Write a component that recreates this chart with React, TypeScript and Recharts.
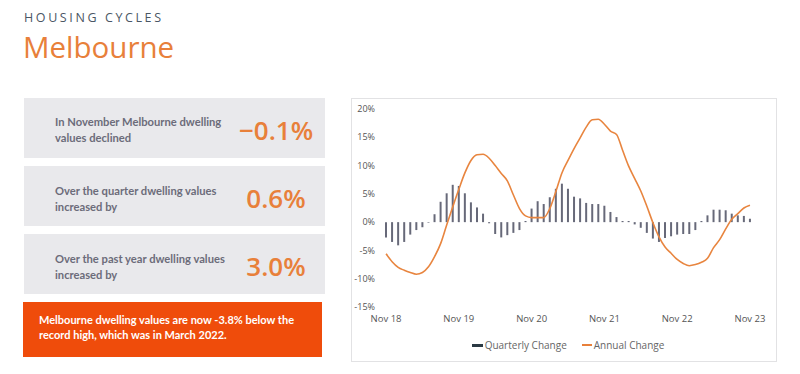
import React from "react";
import { ComposedChart, Bar, Line, XAxis, YAxis, Legend } from "recharts";

const months: string[] = [
  "Nov 18","Dec 18","Jan 19","Feb 19","Mar 19","Apr 19","May 19","Jun 19","Jul 19","Aug 19","Sep 19","Oct 19",
  "Nov 19","Dec 19","Jan 20","Feb 20","Mar 20","Apr 20","May 20","Jun 20","Jul 20","Aug 20","Sep 20","Oct 20",
  "Nov 20","Dec 20","Jan 21","Feb 21","Mar 21","Apr 21","May 21","Jun 21","Jul 21","Aug 21","Sep 21","Oct 21",
  "Nov 21","Dec 21","Jan 22","Feb 22","Mar 22","Apr 22","May 22","Jun 22","Jul 22","Aug 22","Sep 22","Oct 22",
  "Nov 22","Dec 22","Jan 23","Feb 23","Mar 23","Apr 23","May 23","Jun 23","Jul 23","Aug 23","Sep 23","Oct 23",
  "Nov 23",
];

const quarterlyChange: number[] = [
  -2.7, -3.5, -4.1, -3.5, -2.2, -1.4, -0.9, -0.1, 1.4, 3.6,
  5.1, 6.6, 6.4, 5.1, 3.5, 2.6, 1.5, -0.2, -2.1, -2.7,
  -2.3, -1.9, -1.4, 0.2, 2.4, 3.7, 3.2, 4.4, 5.9, 6.8,
  5.9, 4.5, 4.2, 3.4, 3.2, 3.2, 2.9, 1.8, 0.9, 0.2,
  0.2, -0.4, -1.0, -1.9, -2.9, -3.5, -2.8, -2.5, -2.2, -2.1,
  -2.1, -1.4, 0.2, 1.2, 2.2, 2.2, 2.1, 1.5, 1.2, 1.1,
  0.6,
];

const annualChange: number[] = [
  -5.6, -7.0, -8.0, -8.5, -8.9, -9.2, -8.9, -7.9, -6.1, -3.8,
  -0.5, 2.7, 5.8, 8.7, 10.9, 11.9, 12.0, 11.3, 10.0, 8.6,
  7.3, 4.8, 2.4, 1.1, 0.8, 0.8, 0.8, 2.4, 5.4, 8.7,
  10.9, 13.0, 14.9, 16.8, 18.1, 18.2, 17.3, 16.1, 15.5, 12.7,
  9.9, 7.7, 5.5, 2.8, -0.1, -2.6, -4.4, -5.5, -6.6, -7.3,
  -7.7, -7.5, -7.1, -6.4, -4.5, -3.1, -1.2, 0.5, 1.5, 2.5,
  3.0,
];

const yTicks: number[] = [-15, -10, -5, 0, 5, 10, 15, 20];

const statTexts: string[][] = [
  ["In November Melbourne dwelling", "values declined"],
  ["Over the quarter dwelling values", "increased by"],
  ["Over the past year dwelling values", "increased by"],
];
const statValues: string[] = ["\u22120.1%", "0.6%", "3.0%"];
const noteLines: string[] = [
  "Melbourne dwelling values are now -3.8% below the",
  "record high, which was in March 2022.",
];

const data = months.map((m, i) => ({
  month: m,
  quarterly: quarterlyChange[i],
  annual: annualChange[i],
}));

const ORANGE = "#E8803A";
const BAR = "#676979";

const boxTops = [98, 166, 234];

const LegendContent = () => (
  <div
    style={{
      display: "flex",
      justifyContent: "center",
      alignItems: "center",
      height: 20,
      fontFamily: "'Open Sans', sans-serif",
      fontSize: 10,
      color: "#666",
    }}
  >
    <span style={{ display: "inline-block", width: 11, height: 3, background: "#2b3a44", marginRight: 2 }} />
    <span>Quarterly Change</span>
    <span style={{ display: "inline-block", width: 10, height: 1.5, background: ORANGE, marginLeft: 15, marginRight: 2 }} />
    <span>Annual Change</span>
  </div>
);

export default function App() {
  return (
    <div style={{ position: "absolute", left: 0, top: 0, width: 800, height: 374, background: "#fff", overflow: "hidden" }}>
      <div
        style={{
          position: "absolute",
          left: 24,
          top: 10,
          fontFamily: "'Open Sans', sans-serif",
          fontWeight: 500,
          fontSize: 12.5,
          letterSpacing: 2.6,
          color: "#4a5664",
          lineHeight: "16px",
        }}
      >
        HOUSING CYCLES
      </div>
      <div
        style={{
          position: "absolute",
          left: 23,
          top: 28,
          fontFamily: "'Open Sans', sans-serif",
          fontWeight: 400,
          fontSize: 29.5,
          color: ORANGE,
          lineHeight: "38px",
        }}
      >
        Melbourne
      </div>

      {boxTops.map((t, i) => (
        <div
          key={i}
          style={{ position: "absolute", left: 24, top: t, width: 301, height: 60, background: "#E9E9EC" }}
        >
          <div
            style={{
              position: "absolute",
              left: 31,
              top: 16 + (i === 0 ? 0 : 1),
              fontFamily: "Lato, sans-serif",
              fontWeight: 700,
              fontSize: 11.2,
              lineHeight: "15.5px",
              color: "#6c6c7a",
            }}
          >
            {statTexts[i][0]}
            <br />
            {statTexts[i][1]}
          </div>
          <div
            style={{
              position: "absolute",
              left: 200,
              width: 104,
              top: 14,
              textAlign: "center",
              fontFamily: "'Open Sans', sans-serif",
              fontWeight: 600,
              fontSize: 26,
              lineHeight: "36px",
              color: ORANGE,
            }}
          >
            {statValues[i]}
          </div>
        </div>
      ))}

      <div style={{ position: "absolute", left: 23, top: 302, width: 299, height: 55, background: "#EF4C0B" }}>
        <div
          style={{
            position: "absolute",
            left: 16,
            top: 10,
            fontFamily: "Lato, sans-serif",
            fontWeight: 700,
            fontSize: 11,
            lineHeight: "15px",
            color: "#fff",
          }}
        >
          {noteLines[0]}
          <br />
          {noteLines[1]}
        </div>
      </div>

      <div
        style={{
          position: "absolute",
          left: 351,
          top: 98,
          width: 426,
          height: 264,
          boxSizing: "border-box",
          border: "1px solid #e2e2e4",
        }}
      />
      <div style={{ position: "absolute", left: 351, top: 98 }}>
        <ComposedChart
          width={426}
          height={264}
          data={data}
          margin={{ top: 11, right: 24, left: 0, bottom: 7 }}
          style={{ fontFamily: "'Open Sans', sans-serif" }}
        >
          <XAxis
            dataKey="month"
            interval={11}
            axisLine={false}
            tickLine={false}
            height={28}
            tick={{ fontSize: 9.5, fill: "#555" }}
          />
          <YAxis
            domain={[-15, 20]}
            ticks={yTicks}
            width={32}
            axisLine={false}
            tickLine={false}
            tickFormatter={(v: number) => `${v}%`}
            tick={{ fontSize: 9, fill: "#555" }}
          />
          <Legend
            verticalAlign="bottom"
            content={LegendContent}
            wrapperStyle={{ left: 32, width: 370, height: 20 }}
          />
          <Bar dataKey="quarterly" name="Quarterly Change" fill={BAR} barSize={2} isAnimationActive={false} />
          <Line
            dataKey="annual"
            name="Annual Change"
            type="monotone"
            stroke="#E8853F"
            strokeWidth={1.6}
            dot={false}
            isAnimationActive={false}
          />
        </ComposedChart>
      </div>
    </div>
  );
}
